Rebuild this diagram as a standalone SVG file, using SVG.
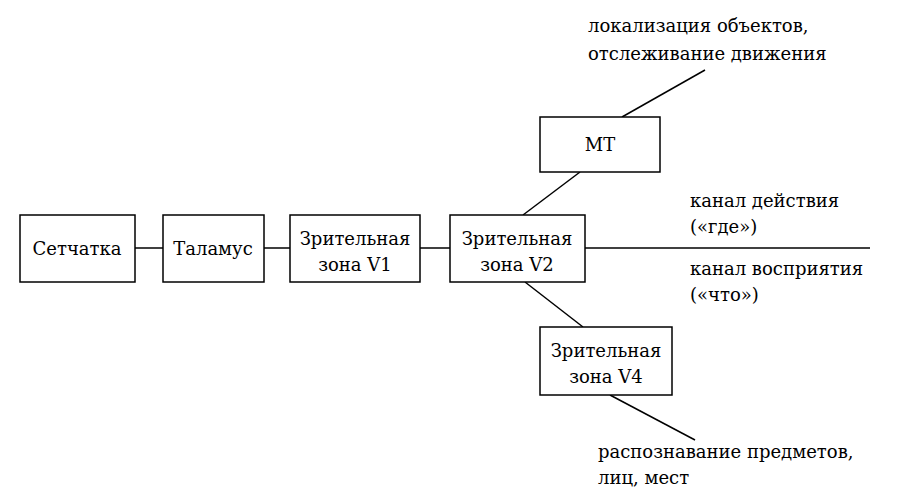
<svg xmlns="http://www.w3.org/2000/svg" width="900" height="500" viewBox="0 0 900 500" font-family="'DejaVu Serif', 'Liberation Serif', serif" font-size="18">
<style>
.b{fill:#fff;stroke:#000;stroke-width:1.5}
line{stroke:#000;stroke-width:1.5}
.c{text-anchor:middle}
</style>
<rect width="900" height="500" fill="#fff"/>
<g id="connectors">
<line x1="135" y1="248" x2="163" y2="248"/>
<line x1="264" y1="248" x2="290" y2="248"/>
<line x1="420" y1="248" x2="450" y2="248"/>
<line x1="585" y1="248" x2="870" y2="248"/>
<line x1="523" y1="215" x2="580" y2="172"/>
<line x1="622" y1="117" x2="705" y2="70"/>
<line x1="525" y1="282" x2="583" y2="327"/>
<line x1="610" y1="395" x2="695" y2="440"/>
</g>
<g id="retina"><rect class="b" x="20" y="215" width="115" height="67"/><text class="c" x="77" y="255">Сетчатка</text></g>
<g id="thalamus"><rect class="b" x="163" y="215" width="101" height="67"/><text class="c" x="213" y="255">Таламус</text></g>
<g id="v1"><rect class="b" x="290" y="215" width="130" height="67"/><text class="c" x="355" y="245">Зрительная</text><text class="c" x="355" y="271">зона V1</text></g>
<g id="v2"><rect class="b" x="450" y="215" width="135" height="67"/><text class="c" x="517" y="245">Зрительная</text><text class="c" x="517" y="271">зона V2</text></g>
<g id="mt"><rect class="b" x="540" y="117" width="120" height="55"/><text class="c" x="600" y="151">МТ</text></g>
<g id="v4"><rect class="b" x="540" y="327" width="132" height="68"/><text class="c" x="606" y="357">Зрительная</text><text class="c" x="606" y="383">зона V4</text></g>
<g id="labels">
<text x="588" y="32">локализация объектов,</text>
<text x="588" y="60">отслеживание движения</text>
<text x="690" y="207">канал действия</text>
<text x="690" y="233">(«где»)</text>
<text x="690" y="275">канал восприятия</text>
<text x="690" y="301">(«что»)</text>
<text x="598" y="458">распознавание предметов,</text>
<text x="598" y="484">лиц, мест</text>
</g>
</svg>
